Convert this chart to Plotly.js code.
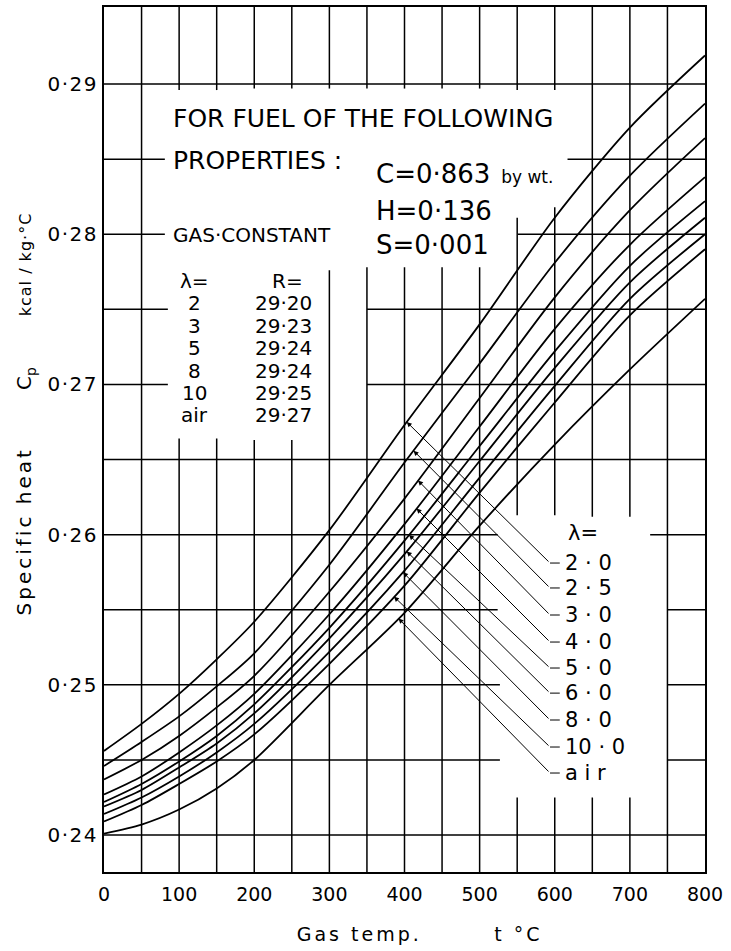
<!DOCTYPE html>
<html>
<head>
<meta charset="utf-8">
<script src="https://cdn.plot.ly/plotly-3.0.1.min.js"></script>
<style>
  html, body { margin: 0; padding: 0; background: #fff; }
  #chart { width: 731px; height: 951px; }
</style>
</head>
<body>
<div id="chart"></div>
<script>
// Gas temperature t (°C) at which the specific heat is tabulated
const gasTemp = [0, 50, 100, 150, 200, 300, 400, 500, 600, 700, 800];

// Specific heat cp (kcal/kg·°C) of the flue gas for each excess-air ratio λ
const cpLambda2_0  = [0.2456, 0.2474, 0.2494, 0.2517, 0.2542, 0.2603, 0.2673, 0.2740, 0.2811, 0.2871, 0.2919];
const cpLambda2_5  = [0.2446, 0.2462, 0.2479, 0.2499, 0.2521, 0.2580, 0.2648, 0.2714, 0.2781, 0.2839, 0.2887];
const cpLambda3_0  = [0.2437, 0.2450, 0.2466, 0.2485, 0.2506, 0.2562, 0.2624, 0.2691, 0.2758, 0.2816, 0.2864];
const cpLambda4_0  = [0.2427, 0.2439, 0.2455, 0.2473, 0.2494, 0.2547, 0.2607, 0.2672, 0.2737, 0.2793, 0.2838];
const cpLambda5_0  = [0.2422, 0.2434, 0.2449, 0.2466, 0.2487, 0.2538, 0.2596, 0.2659, 0.2722, 0.2779, 0.2822];
const cpLambda6_0  = [0.2419, 0.2430, 0.2445, 0.2461, 0.2481, 0.2531, 0.2587, 0.2649, 0.2711, 0.2768, 0.2811];
const cpLambda8_0  = [0.2414, 0.2425, 0.2439, 0.2455, 0.2474, 0.2522, 0.2576, 0.2638, 0.2699, 0.2757, 0.2800];
const cpLambda10_0 = [0.2409, 0.2420, 0.2434, 0.2449, 0.2467, 0.2514, 0.2566, 0.2628, 0.2688, 0.2746, 0.2790];
const cpAir        = [0.2401, 0.2407, 0.2417, 0.2431, 0.2450, 0.2500, 0.2548, 0.2606, 0.2660, 0.2710, 0.2757];

const curveLabels = ['2 · 0', '2 · 5', '3 · 0', '4 · 0', '5 · 0', '6 · 0', '8 · 0', '10 · 0', 'a i r'];

// Axis ticks
const xTickVals = [0, 100, 200, 300, 400, 500, 600, 700, 800];
const xTickText = ['0', '100', '200', '300', '400', '500', '600', '700', '800'];
const yTickVals = [0.24, 0.25, 0.26, 0.27, 0.28, 0.29];
const yTickText = ['0·24', '0·25', '0·26', '0·27', '0·28', '0·29'];

// Gas-constant table printed on the chart
const gasLambda = ['2', '3', '5', '8', '10', 'air'];
const gasR = ['29·20', '29·23', '29·24', '29·24', '29·25', '29·27'];

// Fuel composition
const fuelC = '0·863', fuelH = '0·136', fuelS = '0·001';

// ---------------------------------------------------------------- layout
const FONT = 'DejaVu Sans, Verdana, sans-serif';
const X_RANGE = [0, 800];
const Y_RANGE = [0.23754, 0.29513];
const LO = Y_RANGE[0], HI = Y_RANGE[1];

// Grid drawn as segments so that it is interrupted behind the lettering
const vGrid = [
  [50,  [[LO, HI]]],
  [100, [[0.2896, HI], [LO, 0.2664]]],
  [150, [[0.2896, HI], [LO, 0.2664]]],
  [200, [[0.2897, HI], [LO, 0.2663]]],
  [250, [[0.2897, HI], [LO, 0.2663]]],
  [300, [[0.2897, HI], [LO, 0.2776]]],
  [350, [[0.2897, HI], [LO, 0.2778]]],
  [400, [[0.2897, HI], [LO, 0.2778]]],
  [450, [[0.2897, HI], [LO, 0.2778]]],
  [500, [[0.2897, HI], [LO, 0.2778]]],
  [550, [[0.2896, HI], [0.2613, 0.2811], [LO, 0.2425]]],
  [600, [[0.2896, HI], [0.2613, 0.2818], [LO, 0.2425]]],
  [650, [[0.2612, HI], [LO, 0.2425]]],
  [700, [[0.2612, HI], [LO, 0.2425]]],
  [750, [[LO, HI]]]
];
const hGrid = [
  [0.240, [[0, 800]]],
  [0.245, [[0, 527], [750, 800]]],
  [0.250, [[0, 527], [750, 800]]],
  [0.255, [[0, 524], [750, 800]]],
  [0.260, [[0, 524], [727, 800]]],
  [0.265, [[0, 800]]],
  [0.270, [[0, 85], [350, 800]]],
  [0.275, [[0, 85], [350, 800]]],
  [0.280, [[0, 81], [551, 800]]],
  [0.285, [[0, 81], [617, 800]]],
  [0.290, [[0, 800]]]
];

// Leader lines: temperature where each arrow meets its curve, and label rows
const arrowTipX = [403, 412, 418, 416, 406, 403, 398, 386, 392];
const labelRowY = [0.25811, 0.25645, 0.25465, 0.25285, 0.25112, 0.24945, 0.24766, 0.24586, 0.24413];
const ELBOW_X = 593.7, STUB_END_X = 606.7, LABEL_X = 611;

const curves = [cpLambda2_0, cpLambda2_5, cpLambda3_0, cpLambda4_0, cpLambda5_0,
                cpLambda6_0, cpLambda8_0, cpLambda10_0, cpAir];

function valueAt(xs, ys, x) {
  for (let i = 0; i < xs.length - 1; i++) {
    if (x >= xs[i] && x <= xs[i + 1]) {
      const f = (x - xs[i]) / (xs[i + 1] - xs[i]);
      return ys[i] + f * (ys[i + 1] - ys[i]);
    }
  }
  return ys[ys.length - 1];
}

const traces = curves.map((ys, i) => ({
  type: 'scatter',
  mode: 'lines',
  name: 'λ = ' + curveLabels[i],
  x: gasTemp,
  y: ys,
  line: { color: '#000', width: 1.8, shape: 'spline', smoothing: 0.8 },
  hoverinfo: 'skip'
}));

const shapes = [];
const gridLine = { color: '#000', width: 1.5 };
vGrid.forEach(([x, segs]) => segs.forEach(([y0, y1]) => shapes.push({
  type: 'line', xref: 'x', yref: 'y', x0: x, x1: x, y0: y0, y1: y1, layer: 'below', line: gridLine
})));
hGrid.forEach(([y, segs]) => segs.forEach(([x0, x1]) => shapes.push({
  type: 'line', xref: 'x', yref: 'y', x0: x0, x1: x1, y0: y, y1: y, layer: 'below', line: gridLine
})));
// short horizontal stubs in front of the λ labels
labelRowY.forEach(y => shapes.push({
  type: 'line', xref: 'x', yref: 'y', x0: ELBOW_X, x1: STUB_END_X, y0: y, y1: y,
  layer: 'above', line: { color: '#000', width: 1 }
}));

const annotations = [];
function note(text, x, y, size, anchor, extra) {
  annotations.push(Object.assign({
    text: text, x: x, y: y, xref: 'x', yref: 'y', showarrow: false,
    xanchor: anchor || 'left', yanchor: 'middle',
    font: { family: FONT, size: size, color: '#000' }
  }, extra || {}));
}

// Fuel description block
note('FOR FUEL OF THE FOLLOWING', 89.5, 0.28774, 25);
note('PROPERTIES :', 89.5, 0.28494, 25);
note('C=' + fuelC + '<span style="font-size:17px">  by wt.</span>', 360, 0.28401, 26);
note('H=' + fuelH, 360, 0.28154, 26);
note('S=' + fuelS, 360, 0.27928, 26);
note('GAS·CONSTANT', 89.5, 0.27995, 20);
note('λ=', 121, 0.27688, 20, 'center');
note('R=', 243.6, 0.27688, 20, 'center');
const tableRowY = [0.27542, 0.27389, 0.27242, 0.27089, 0.26943, 0.26796];
gasLambda.forEach((l, i) => note(l, 121, tableRowY[i], 20, 'center'));
gasR.forEach((r, i) => note(r, 238.3, tableRowY[i], 20, 'center'));

// Curve labels with leader arrows
note('λ=', 637.6, 0.26011, 21, 'center');
curves.forEach((ys, i) => {
  const tx = arrowTipX[i];
  annotations.push({
    text: '', x: tx, y: valueAt(gasTemp, ys, tx), xref: 'x', yref: 'y',
    ax: ELBOW_X, ay: labelRowY[i], axref: 'x', ayref: 'y',
    showarrow: true, arrowhead: 2, arrowsize: 1, arrowwidth: 1, arrowcolor: '#000', standoff: 0
  });
  note(curveLabels[i], LABEL_X, labelRowY[i], 21);
});

// Axis titles; the zero-width space keeps the leading padding that places each part
const NB = '\u00A0', ZW = '\u200B';
const yTitle = ZW + NB.repeat(8) + '<span style="letter-spacing:3px">Specific heat</span>' + NB.repeat(9) +
  'C<sub>p</sub>' + NB.repeat(8) +
  '<span style="font-size:16px;letter-spacing:1px">kcal / kg·°C</span>';
const xTitle = ZW + NB.repeat(5) + '<span style="letter-spacing:3px">Gas temp.</span>' + NB.repeat(12) +
  '<span style="letter-spacing:3px">t °C</span>';

const yTickHtml = yTickText.map(t => '<span style="letter-spacing:1.5px">' + t + '</span>');

const layout = {
  width: 731, height: 951,
  margin: { l: 104, r: 26, t: 7, b: 79 },
  paper_bgcolor: '#fff', plot_bgcolor: '#fff',
  showlegend: false,
  hovermode: false,
  font: { family: FONT, color: '#000' },
  xaxis: {
    range: X_RANGE, showgrid: false, zeroline: false,
    showline: true, mirror: true, linecolor: '#000', linewidth: 2,
    ticks: '', tickvals: xTickVals, ticktext: xTickText, ticklabelstandoff: 4,
    tickfont: { family: FONT, size: 19, color: '#000' },
    title: { text: xTitle, standoff: 24, font: { family: FONT, size: 19, color: '#000' } }
  },
  yaxis: {
    range: Y_RANGE, showgrid: false, zeroline: false,
    showline: true, mirror: true, linecolor: '#000', linewidth: 2,
    ticks: '', tickvals: yTickVals, ticktext: yTickHtml, ticklabelstandoff: 0,
    tickfont: { family: FONT, size: 20, color: '#000' },
    title: { text: yTitle, standoff: 10, font: { family: FONT, size: 20, color: '#000' } }
  },
  shapes: shapes,
  annotations: annotations
};

Plotly.newPlot('chart', traces, layout, { staticPlot: true, displayModeBar: false });
</script>
</body>
</html>
